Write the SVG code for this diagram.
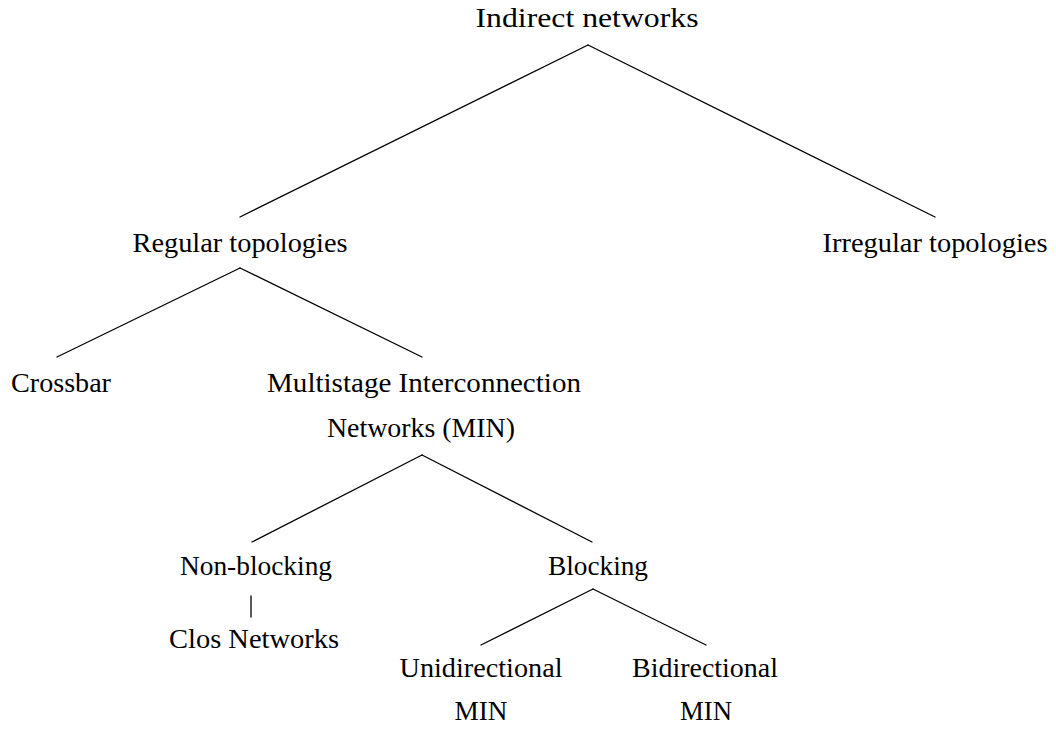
<svg xmlns="http://www.w3.org/2000/svg" width="1056" height="730" viewBox="0 0 1056 730">
  <style>
    text { font-family: "Liberation Serif", "DejaVu Serif", serif; font-size: 27px; fill: #000; text-anchor: middle; }
    .edge { stroke: #000; stroke-width: 1.3; fill: none; stroke-linecap: round; }
  </style>
  <rect width="1056" height="730" fill="#fff"/>
  <g id="connectors">
    <line class="edge" x1="588" y1="45" x2="240" y2="217"/>
    <line class="edge" x1="588" y1="45" x2="935" y2="217"/>
    <line class="edge" x1="240" y1="268" x2="57" y2="357"/>
    <line class="edge" x1="240" y1="268" x2="422" y2="357"/>
    <line class="edge" x1="422" y1="455" x2="252" y2="542"/>
    <line class="edge" x1="422" y1="455" x2="592" y2="542"/>
    <line class="edge" x1="251" y1="596" x2="251" y2="617"/>
    <line class="edge" x1="593" y1="589" x2="481" y2="645"/>
    <line class="edge" x1="593" y1="589" x2="706" y2="645"/>
  </g>
  <g id="indirect"><text x="587" y="27" textLength="223" lengthAdjust="spacingAndGlyphs">Indirect networks</text></g>
  <g id="regular"><text x="240" y="252" textLength="215" lengthAdjust="spacingAndGlyphs">Regular topologies</text></g>
  <g id="irregular"><text x="935" y="252" textLength="225" lengthAdjust="spacingAndGlyphs">Irregular topologies</text></g>
  <g id="crossbar"><text x="61" y="392" textLength="100" lengthAdjust="spacingAndGlyphs">Crossbar</text></g>
  <g id="min">
    <text x="424" y="392" textLength="314" lengthAdjust="spacingAndGlyphs">Multistage Interconnection</text>
    <text x="421" y="437" textLength="188" lengthAdjust="spacingAndGlyphs">Networks (MIN)</text>
  </g>
  <g id="nonblocking"><text x="256" y="575" textLength="152" lengthAdjust="spacingAndGlyphs">Non-blocking</text></g>
  <g id="blocking"><text x="598" y="575" textLength="100" lengthAdjust="spacingAndGlyphs">Blocking</text></g>
  <g id="clos"><text x="254" y="648" textLength="170" lengthAdjust="spacingAndGlyphs">Clos Networks</text></g>
  <g id="unidirectional">
    <text x="481" y="677" textLength="163" lengthAdjust="spacingAndGlyphs">Unidirectional</text>
    <text x="481" y="720" textLength="53" lengthAdjust="spacingAndGlyphs">MIN</text>
  </g>
  <g id="bidirectional">
    <text x="705" y="677" textLength="146" lengthAdjust="spacingAndGlyphs">Bidirectional</text>
    <text x="706" y="720" textLength="52" lengthAdjust="spacingAndGlyphs">MIN</text>
  </g>
</svg>
